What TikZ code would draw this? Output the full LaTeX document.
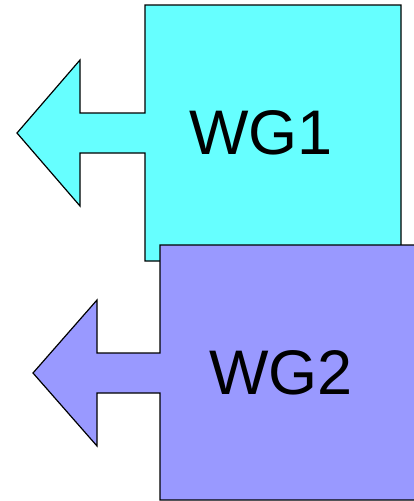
\documentclass[tikz,border=0pt]{standalone}
\usepackage{fontspec}
\setmainfont{Liberation Sans}

\definecolor{wgcyan}{HTML}{66FFFF}
\definecolor{wgblue}{HTML}{9999FF}

\begin{document}
\begin{tikzpicture}[x=1pt, y=-1pt]
    \tikzset{
        wg shape/.style={draw=black, line width=1.2pt, line join=miter},
        wg label/.style={font=\fontsize{63}{63}\selectfont, inner sep=0pt},
    }
    \useasboundingbox (0, 0) rectangle (414, 501);
    % Box and left-pointing arrow as one outline, so the shaft has no seam.
    \draw[wg shape, fill=wgcyan]
        (145, 5) -- (401, 5) -- (401, 261) -- (145, 261) -- (145, 153)
        -- (80, 153) -- (80, 206) -- (17, 133) -- (80, 60) -- (80, 113)
        -- (145, 113) -- cycle;
    \node[wg label] (wg1) at (261, 133) {WG1};
    % The second one sits on top of the first.
    \draw[wg shape, fill=wgblue]
        (160, 245) -- (416, 245) -- (416, 500) -- (160, 500) -- (160, 393)
        -- (97, 393) -- (97, 446) -- (33, 373) -- (97, 300) -- (97, 353)
        -- (160, 353) -- cycle;
    \node[wg label] (wg2) at (281, 373) {WG2};
\end{tikzpicture}
\end{document}
